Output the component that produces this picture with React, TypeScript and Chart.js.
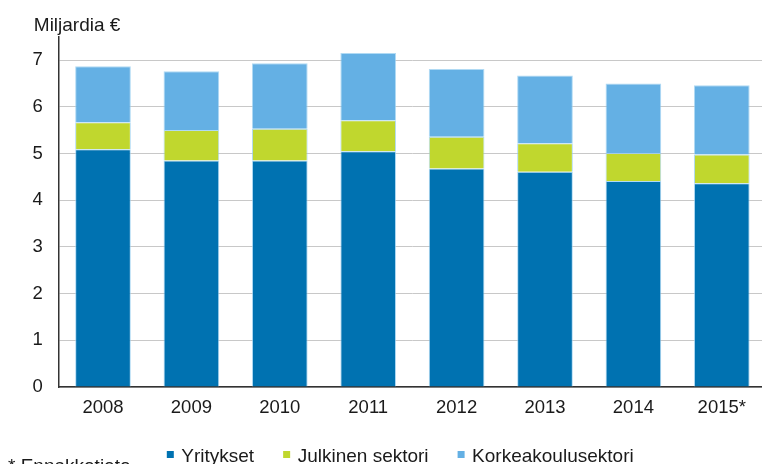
import React, { useEffect, useRef } from "react";
import { Chart, registerables } from "chart.js";

Chart.register(...registerables);

const categories = ["2008", "2009", "2010", "2011", "2012", "2013", "2014", "2015*"];
const yritykset = [5.09, 4.85, 4.85, 5.05, 4.68, 4.61, 4.41, 4.36];
const julkinen = [0.58, 0.65, 0.68, 0.66, 0.68, 0.61, 0.6, 0.62];
const korkeakoulu = [1.2, 1.26, 1.4, 1.44, 1.45, 1.45, 1.49, 1.48];
const yTicks = [0, 1, 2, 3, 4, 5, 6, 7];
const seriesNames = ["Yritykset", "Julkinen sektori", "Korkeakoulusektori"];
const seriesColors = ["#0072b1", "#c0d72e", "#64b0e4"];
const yTitle = "Miljardia €";
const footnote = "* Ennakkotieto";

const FONT = "'Liberation Sans', Arial, sans-serif";

const textPlugin = {
  id: "texts",
  afterDraw(chart: any) {
    const ctx = chart.ctx;
    const area = chart.chartArea;
    ctx.save();
    ctx.fillStyle = "#1a1a1a";
    ctx.font = `19px ${FONT}`;
    ctx.textBaseline = "alphabetic";
    ctx.textAlign = "left";
    // axis title
    ctx.fillText(yTitle, area.left - 25, 31);
    // footnote
    ctx.fillText(footnote, 8, 472);
    // legend
    let x = area.left + 108;
    const datasets = chart.data.datasets;
    datasets.forEach((ds: any) => {
      ctx.fillStyle = ds.backgroundColor;
      ctx.fillRect(x, 451, 7, 7);
      ctx.fillStyle = "#1a1a1a";
      const tx = x + 14.5;
      ctx.fillText(ds.label, tx, 461.5);
      x = tx + ctx.measureText(ds.label).width + 29;
    });
    ctx.restore();
  },
};

export default function App() {
  const ref = useRef<HTMLCanvasElement | null>(null);
  useEffect(() => {
    if (!ref.current) return;
    const values = [yritykset, julkinen, korkeakoulu];
    const chart = new Chart(ref.current, {
      type: "bar",
      data: {
        labels: categories,
        datasets: values.map((v, i) => ({
          label: seriesNames[i],
          data: v,
          backgroundColor: seriesColors[i],
          borderColor: "rgba(150,205,240,0.75)",
          borderWidth: 1,
          categoryPercentage: 0.63,
          barPercentage: 1,
        })),
      },
      options: {
        animation: false,
        responsive: false,
        events: [],
        layout: { padding: { top: 36.7, right: 4, bottom: 0, left: 0 } },
        plugins: {
          legend: { display: false },
          title: { display: false },
          tooltip: { enabled: false },
        },
        scales: {
          x: {
            stacked: true,
            grid: { drawOnChartArea: false, drawTicks: false },
            border: { display: true, color: "#333333", width: 1.5 },
            ticks: {
              color: "#1a1a1a",
              font: { family: FONT, size: 18.5 },
              padding: 10,
              maxRotation: 0,
              autoSkip: false,
            },
            afterFit: (s: any) => {
              s.height = 77;
            },
          },
          y: {
            stacked: true,
            min: 0,
            max: 7.5,
            afterBuildTicks: (s: any) => {
              s.ticks = yTicks.map((v) => ({ value: v }));
            },
            grid: { color: "#c8c8c8", lineWidth: 1, drawTicks: false },
            border: { display: true, color: "#333333", width: 1.5 },
            ticks: {
              color: "#1a1a1a",
              font: { family: FONT, size: 18.5 },
              padding: 16,
            },
            afterFit: (s: any) => {
              s.width = 58.8;
            },
          },
        },
      },
      plugins: [textPlugin],
    });
    return () => chart.destroy();
  }, []);
  return (
    <div
      style={{
        position: "fixed",
        left: 0,
        top: 0,
        width: 762,
        height: 464,
        overflow: "hidden",
        background: "#ffffff",
      }}
    >
      <canvas ref={ref} width={770} height={464} style={{ display: "block" }} />
    </div>
  );
}
